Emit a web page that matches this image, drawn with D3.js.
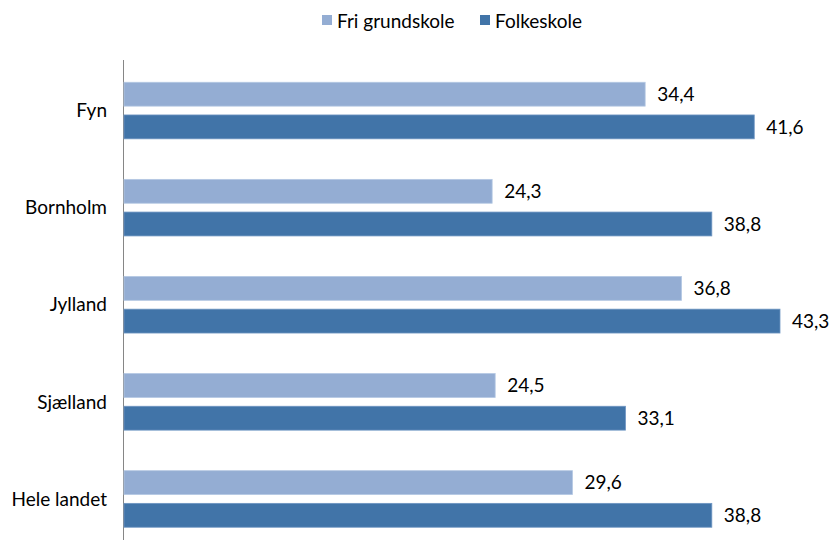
<!DOCTYPE html>
<html>
<head>
<meta charset="utf-8">
<script src="https://cdn.jsdelivr.net/npm/d3@7"></script>
<style>
  body { margin: 0; background: #fff; }
  text { font-family: Lato, "Open Sans", sans-serif; fill: #000; }
</style>
</head>
<body>
<div id="chart"></div>
<script>
// data
var categories = ["Fyn", "Bornholm", "Jylland", "Sjælland", "Hele landet"];
var seriesNames = ["Fri grundskole", "Folkeskole"];
var friGrundskole = [34.4, 24.3, 36.8, 24.5, 29.6];
var folkeskole = [41.6, 38.8, 43.3, 33.1, 38.8];
var colors = ["#94ADD3", "#4174A8"];

var width = 832, height = 540;

var svg = d3.select("#chart")
  .append("svg")
    .attr("width", width)
    .attr("height", height);

var x = d3.scaleLinear()
    .domain([0, 50])
    .range([124, 881.5]);

var y = d3.scaleBand()
    .domain(categories)
    .range([62, 547.5]);

var inner = d3.scaleBand()
    .domain(seriesNames)
    .range([0, y.bandwidth()])
    .paddingInner(0.27)
    .paddingOuter(0.62);

var rows = categories.map(function(c, i) {
  return [
    {cat: c, name: seriesNames[0], value: friGrundskole[i]},
    {cat: c, name: seriesNames[1], value: folkeskole[i]}
  ];
});

// Y axis (just the line and labels)
svg.append("line")
    .attr("x1", x(0) - 0.5).attr("x2", x(0) - 0.5)
    .attr("y1", 60).attr("y2", height)
    .attr("stroke", "#868686")
    .attr("stroke-width", 1);

svg.selectAll(".cat")
  .data(categories)
  .enter()
  .append("text")
    .attr("class", "cat")
    .attr("x", 107)
    .attr("y", function(d) { return y(d) + y.bandwidth() / 2; })
    .attr("dy", "0.35em")
    .attr("text-anchor", "end")
    .style("font-size", "19px")
    .text(function(d) { return d; });

// Bars
var groups = svg.selectAll(".grp")
  .data(rows)
  .enter()
  .append("g")
    .attr("transform", function(d) { return "translate(0," + y(d[0].cat) + ")"; });

groups.selectAll("rect")
  .data(function(d) { return d; })
  .enter()
  .append("rect")
    .attr("x", x(0))
    .attr("y", function(d) { return inner(d.name); })
    .attr("width", function(d) { return x(d.value) - x(0); })
    .attr("height", inner.bandwidth())
    .attr("fill", function(d, i) { return colors[i]; })
    .attr("stroke", function(d, i) { return i == 0 ? "#B4C8E3" : "#6E95C2"; })
    .attr("stroke-width", 0.8);

groups.selectAll(".val")
  .data(function(d) { return d; })
  .enter()
  .append("text")
    .attr("class", "val")
    .attr("x", function(d) { return x(d.value) + 12; })
    .attr("y", function(d) { return inner(d.name) + inner.bandwidth() / 2; })
    .attr("dy", "0.35em")
    .style("font-size", "19px")
    .text(function(d) { return d.value.toFixed(1).replace(".", ","); });

// Legend
var legendX = [322, 480];
var legend = svg.selectAll(".leg")
  .data(seriesNames)
  .enter()
  .append("g")
    .attr("transform", function(d, i) { return "translate(" + legendX[i] + ",15)"; });

legend.append("rect")
    .attr("width", 10)
    .attr("height", 10)
    .attr("fill", function(d, i) { return colors[i]; });

legend.append("text")
    .attr("x", 15)
    .attr("y", 6)
    .attr("dy", "0.35em")
    .style("font-size", "19px")
    .text(function(d) { return d; });
</script>
</body>
</html>
